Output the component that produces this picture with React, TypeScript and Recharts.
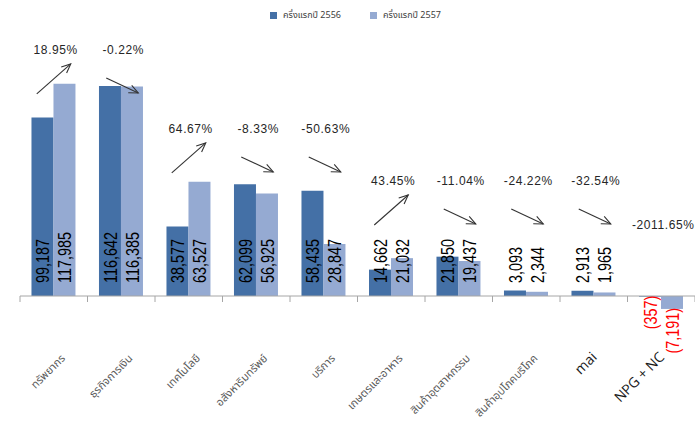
import React from 'react'
import { BarChart, Bar, XAxis, YAxis, LabelList, ReferenceLine, ReferenceDot } from 'recharts'

const categories = [
  'ทรัพยากร',
  'ธุรกิจการเงิน',
  'เทคโนโลยี',
  'อสังหาริมทรัพย์',
  'บริการ',
  'เกษตรและอาหาร',
  'สินค้าอุตสาหกรรม',
  'สินค้าอุปโภคบริโภค',
  'mai',
  'NPG + NC',
]
const h1Y2556 = [99187, 116642, 38577, 62099, 58435, 14662, 21850, 3093, 2913, -357]
const h1Y2557 = [117985, 116385, 63527, 56925, 28847, 21032, 19437, 2344, 1965, -7191]
const changeLabels = ['18.95%', '-0.22%', '64.67%', '-8.33%', '-50.63%', '43.45%', '-11.04%', '-24.22%', '-32.54%', '-2011.65%']
const trend = ['up', 'down', 'up', 'down', 'down', 'up', 'down', 'down', 'down', 'none']
// value level where each % note sits (hand placed in the original)
const noteLevels = [136700, 136700, 92800, 92800, 92800, 63900, 63900, 63900, 63900, 39400]

const seriesNames = ['ครึ่งแรกปี 2556', 'ครึ่งแรกปี 2557']
const colors = ['#4470A6', '#95AAD2']

const data = categories.map((name, i) => ({
  name,
  a: h1Y2556[i],
  b: h1Y2557[i],
  note: changeLabels[i],
  trend: trend[i],
  level: noteLevels[i],
}))

const thaiFont = '"Noto Sans Thai", Tahoma, "DejaVu Sans", sans-serif'

const fmt = (v: number) => (v < 0 ? `(${Math.abs(v).toLocaleString('en-US')})` : v.toLocaleString('en-US'))

function ValueLabel(props: any) {
  const { x, y, width, height, value } = props
  const bottom = Math.max(y, y + height)
  const cx = x + width / 2
  const neg = value < 0
  const ay = neg ? bottom - 1 : bottom - 13
  return (
    <text
      transform={`translate(${cx}, ${ay}) rotate(-90) scale(0.8, 1)`}
      textAnchor={neg ? 'end' : 'start'}
      dominantBaseline="central"
      fontFamily='"Liberation Sans", Arial, sans-serif'
      fontSize={18}
      fill={neg ? '#FF0000' : '#000'}
    >
      {fmt(value)}
    </text>
  )
}

function Arrow({ x1, y1, x2, y2 }: { x1: number; y1: number; x2: number; y2: number }) {
  const ang = Math.atan2(y2 - y1, x2 - x1)
  const len = 10
  const spread = 0.42
  const h1 = [x2 - len * Math.cos(ang - spread), y2 - len * Math.sin(ang - spread)]
  const h2 = [x2 - len * Math.cos(ang + spread), y2 - len * Math.sin(ang + spread)]
  return (
    <g stroke="#333" strokeWidth={1.1} fill="none">
      <line x1={x1} y1={y1} x2={x2} y2={y2} />
      <polyline points={`${h1[0]},${h1[1]} ${x2},${y2} ${h2[0]},${h2[1]}`} />
    </g>
  )
}

function NoteShape(props: any) {
  const { cx, cy, item } = props
  return (
    <g>
      <text x={cx + 2} y={cy} textAnchor="middle" dominantBaseline="central" fontFamily='"Liberation Sans", Arial, sans-serif'
        fontSize={12} letterSpacing={0.6} fill="#262626">
        {item.note}
      </text>
      {item.trend === 'up' && <Arrow x1={cx - 17} y1={cy + 44} x2={cx + 17} y2={cy + 14} />}
      {item.trend === 'down' && <Arrow x1={cx - 15} y1={cy + 28} x2={cx + 17} y2={cy + 43} />}
    </g>
  )
}

function CategoryTick(props: any) {
  const { x, y, payload } = props
  const latin = /^[A-Za-z]/.test(payload.value)
  const tx = x + (latin ? 4 : 12)
  const ty = y + (latin ? 26 : 27)
  return (
    <text x={tx} y={ty} transform={`rotate(-45, ${tx}, ${ty})`} textAnchor="end"
      fontFamily={latin ? '"Open Sans", "DejaVu Sans", sans-serif' : thaiFont}
      fontSize={latin ? 14 : 11} fill={latin ? '#1a1a1a' : '#595959'}>
      {payload.value}
    </text>
  )
}

function ZeroAxis(props: any) {
  const { x1, x2, y1 } = props
  const n = categories.length
  const step = (x2 - x1) / n
  return (
    <g stroke="#A6A6A6" strokeWidth={1}>
      <line x1={x1} y1={y1} x2={x2} y2={y1} />
      {Array.from({ length: n + 1 }, (_, i) => (
        <line key={i} x1={x1 + i * step} y1={y1} x2={x1 + i * step} y2={y1 + 6} />
      ))}
    </g>
  )
}

function ChartLegend() {
  return (
    <div style={{ position: 'absolute', top: 8, left: 0, fontFamily: thaiFont, fontSize: 9, color: '#404040' }}>
      {seriesNames.map((n, i) => (
        <div key={n} style={{ position: 'absolute', left: 270 + i * 100, top: 0, display: 'flex', alignItems: 'center', whiteSpace: 'nowrap' }}>
          <span style={{ display: 'inline-block', width: 7, height: 7, background: colors[i], marginRight: 6 }} />
          {n}
        </div>
      ))}
    </div>
  )
}

export default function App() {
  return (
    <div style={{ position: 'relative', width: 695, height: 425 }}>
      <style>{'body{margin:0}'}</style>
      <BarChart width={695} height={425} data={data} margin={{ top: 44, right: 0, left: 20, bottom: 0 }} barCategoryGap="17%" barGap={0}>
        <XAxis dataKey="name" axisLine={false} tickLine={false} tickSize={0} tickMargin={0} height={93} interval={0} tick={<CategoryTick />} />
        <YAxis hide domain={[-20000, 140000]} />
        <Bar dataKey="a" name={seriesNames[0]} fill={colors[0]} isAnimationActive={false}>
          <LabelList dataKey="a" content={<ValueLabel />} />
        </Bar>
        <Bar dataKey="b" name={seriesNames[1]} fill={colors[1]} isAnimationActive={false}>
          <LabelList dataKey="b" content={<ValueLabel />} />
        </Bar>
        <ReferenceLine y={0} shape={<ZeroAxis />} ifOverflow="visible" />
        {data.map((d) => (
          <ReferenceDot key={d.name} x={d.name} y={d.level} r={0} ifOverflow="visible" shape={(p: any) => <NoteShape {...p} item={d} />} />
        ))}
      </BarChart>
      <ChartLegend />
    </div>
  )
}
